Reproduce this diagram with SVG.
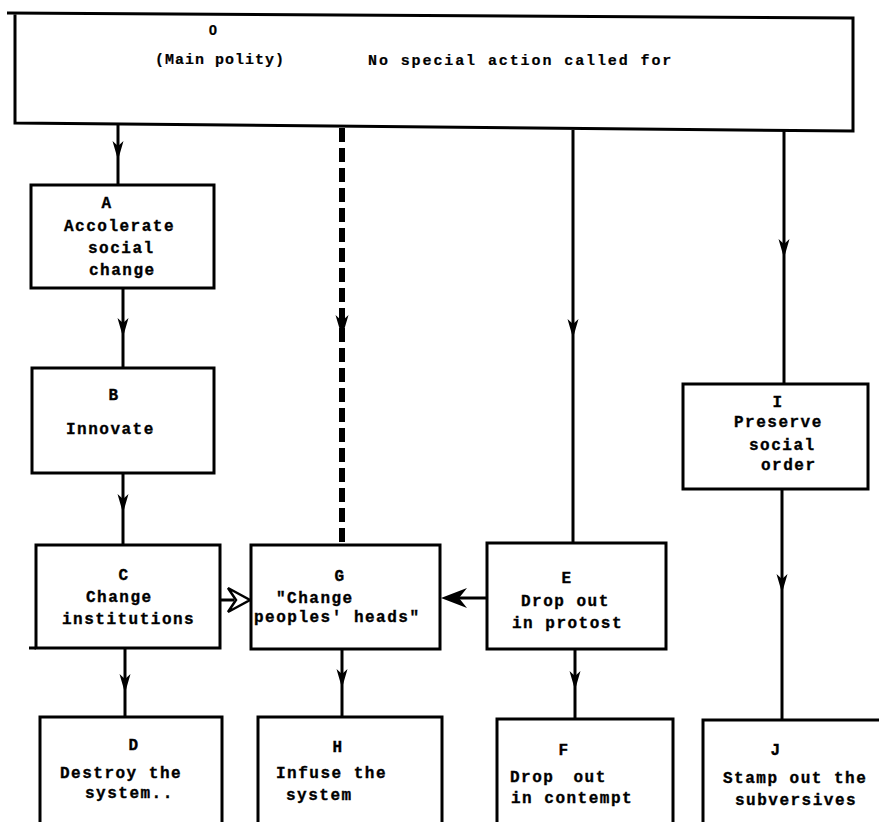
<svg xmlns="http://www.w3.org/2000/svg" width="879" height="822" viewBox="0 0 879 822">
<style>
.box{fill:#fff;stroke:#000;stroke-width:3}
.t{font-family:"Liberation Mono",monospace;font-weight:bold;font-size:16px;letter-spacing:1.5px;fill:#000;stroke:#000;stroke-width:0.35}
.c{text-anchor:middle}
.top{font-family:"Liberation Mono",monospace;font-weight:bold;font-size:15px;fill:#000;stroke:#000;stroke-width:0.2}
.ln{fill:none;stroke:#000;stroke-width:3}
.dash{fill:none;stroke:#000;stroke-width:6;stroke-dasharray:14 6}
</style>
<defs>
<marker id="arr" markerUnits="userSpaceOnUse" viewBox="-22 -7 24 14" refX="0" refY="0" markerWidth="24" markerHeight="14" orient="auto">
<path d="M0,0 L-19,-5.5 L-14,0 L-19,5.5 Z" fill="#000"/>
</marker>
<marker id="arrD" markerUnits="userSpaceOnUse" viewBox="-24 -8 26 16" refX="0" refY="0" markerWidth="26" markerHeight="16" orient="auto">
<path d="M0,0 L-22,-6.5 L-16,0 L-22,6.5 Z" fill="#000"/>
</marker>
</defs>
<rect width="879" height="822" fill="#fff"/>
<g id="connectors">
<path class="ln" d="M118,123 L118,160 L118,186" marker-mid="url(#arr)"/>
<path class="dash" d="M342,128 L342,337 L342,545" marker-mid="url(#arrD)"/>
<path class="ln" d="M573,130 L573,338 L573,543" marker-mid="url(#arr)"/>
<path class="ln" d="M784,131 L784,258 L784,385" marker-mid="url(#arr)"/>
<path class="ln" d="M123,288 L123,337 L123,368" marker-mid="url(#arr)"/>
<path class="ln" d="M123,473 L123,513 L123,545" marker-mid="url(#arr)"/>
<path class="ln" d="M125,648 L125,693 L125,717" marker-mid="url(#arr)"/>
<path class="ln" d="M342,649 L342,688 L342,717" marker-mid="url(#arr)"/>
<path class="ln" d="M575,649 L575,690 L575,719" marker-mid="url(#arr)"/>
<path class="ln" d="M782,489 L782,593 L782,720" marker-mid="url(#arr)"/>
<path class="ln" d="M219,600 L234,600"/>
<path d="M228,588 L250,600 L228,612 L236,600 Z" fill="#fff" stroke="#000" stroke-width="2.5"/>
<path class="ln" d="M487,598 L458,598"/>
<path d="M441,598 L467,588 L459,598 L467,608 Z" fill="#000"/>
</g>
<g id="node-O">
<path class="ln" d="M7,13 L853,18 L853,131 L15,123 L15,13"/>
<text class="top c" x="213" y="35" style="font-family:'Liberation Sans',sans-serif">0</text>
<text class="top" x="155" y="64" style="letter-spacing:1px">(Main polity)</text>
<text class="top" x="368" y="65" style="letter-spacing:1.9px">No special action called for</text>
</g>
<g id="node-A">
<rect class="box" x="31" y="185" width="183" height="103"/>
<text class="t c" x="107" y="208">A</text>
<text class="t" x="64" y="231">Accolerate</text>
<text class="t" x="88" y="253">social</text>
<text class="t" x="89" y="275">change</text>
</g>
<g id="node-B">
<rect class="box" x="32" y="368" width="182" height="105"/>
<text class="t c" x="114" y="400">B</text>
<text class="t" x="66" y="434">Innovate</text>
</g>
<g id="node-C">
<rect class="box" x="36" y="545" width="184" height="103"/>
<path class="ln" d="M29,648 L36,648"/>
<text class="t c" x="124" y="580">C</text>
<text class="t" x="86" y="602">Change</text>
<text class="t" x="62" y="624">institutions</text>
</g>
<g id="node-G">
<rect class="box" x="251" y="545" width="189" height="104"/>
<text class="t c" x="340" y="581">G</text>
<text class="t" x="276" y="603">"Change</text>
<text class="t" x="254" y="622">peoples' heads"</text>
</g>
<g id="node-E">
<rect class="box" x="487" y="543" width="179" height="106"/>
<text class="t c" x="567" y="583">E</text>
<text class="t" x="521" y="606">Drop out</text>
<text class="t" x="512" y="628">in protost</text>
</g>
<g id="node-I">
<rect class="box" x="683" y="384" width="185" height="105"/>
<text class="t c" x="778" y="407">I</text>
<text class="t" x="734" y="427">Preserve</text>
<text class="t" x="749" y="450">social</text>
<text class="t" x="761" y="470">order</text>
</g>
<g id="node-D">
<rect class="box" x="40" y="717" width="182" height="120"/>
<text class="t c" x="134" y="750">D</text>
<text class="t" x="60" y="778">Destroy the</text>
<text class="t" x="85" y="798">system..</text>
</g>
<g id="node-H">
<rect class="box" x="258" y="717" width="184" height="120"/>
<text class="t c" x="338" y="752">H</text>
<text class="t" x="276" y="778">Infuse the</text>
<text class="t" x="286" y="800">system</text>
</g>
<g id="node-F">
<rect class="box" x="497" y="719" width="176" height="120"/>
<text class="t c" x="564" y="755">F</text>
<text class="t" x="510" y="782">Drop <tspan dx="8">out</tspan></text>
<text class="t" x="511" y="803">in contempt</text>
</g>
<g id="node-J">
<rect class="box" x="703" y="720" width="190" height="120"/>
<text class="t c" x="776" y="755">J</text>
<text class="t" x="723" y="783">Stamp out the</text>
<text class="t" x="735" y="805">subversives</text>
</g>
</svg>
